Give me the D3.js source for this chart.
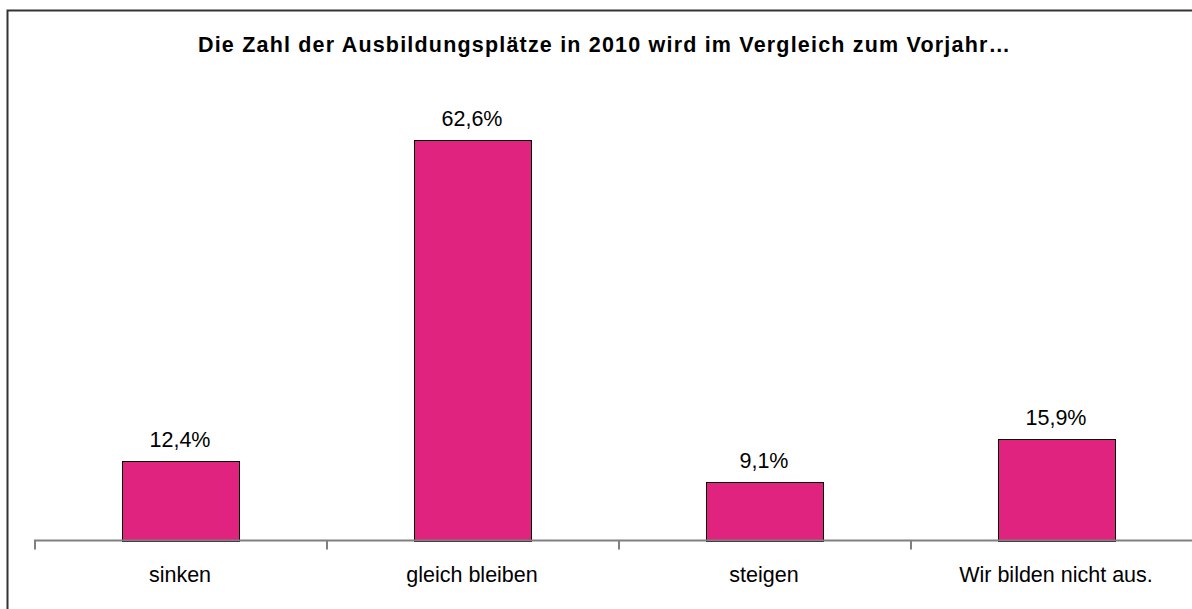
<!DOCTYPE html>
<html>
<head>
<meta charset="utf-8">
<script src="https://cdn.jsdelivr.net/npm/d3@7"></script>
<style>
  body { margin: 0; background: #fff; }
  text { font-family: "Liberation Sans", Arial, sans-serif; fill: #000; }
</style>
</head>
<body>
<div id="chart"></div>
<script>
const categories = ["sinken", "gleich bleiben", "steigen", "Wir bilden nicht aus."];
const values = [12.4, 62.6, 9.1, 15.9];
const valueLabels = ["12,4%", "62,6%", "9,1%", "15,9%"];
const title = "Die Zahl der Ausbildungsplätze in 2010 wird im Vergleich zum Vorjahr…";

const width = 1192, height = 609;
const baseY = 540.5;

const svg = d3.select("#chart").append("svg")
    .attr("width", width)
    .attr("height", height);

// outer frame (runs off the right and bottom edge)
svg.append("rect")
    .attr("x", 7.5).attr("y", 10.5)
    .attr("width", 1300).attr("height", 700)
    .attr("fill", "none")
    .attr("stroke", "#333")
    .attr("stroke-width", 2);

svg.append("text")
    .attr("x", 198).attr("y", 51.5)
    .attr("font-size", 21.5)
    .attr("font-weight", "bold")
    .attr("textLength", 812)
    .attr("lengthAdjust", "spacing")
    .text(title);

const x = d3.scaleBand()
    .domain(categories)
    .range([34, 1202])
    .paddingInner(0.6)
    .paddingOuter(0.3);

const y = d3.scaleLinear()
    .domain([0, 70])
    .range([baseY, baseY - 70 * 6.39]);

svg.append("g")
    .selectAll("rect")
    .data(values)
    .join("rect")
    .attr("x", (d, i) => Math.round(x(categories[i])) + 0.5)
    .attr("y", d => Math.round(y(d)) + 0.5)
    .attr("width", Math.round(x.bandwidth()))
    .attr("height", d => Math.round(baseY) - Math.round(y(d)))
    .attr("fill", "#e0237f")
    .attr("stroke", "#000")
    .attr("stroke-width", 1);

// axis line + ticks between categories
const step = x.step();
const axis = svg.append("g").attr("stroke", "#808080").attr("stroke-width", 2);
axis.append("line")
    .attr("x1", 34).attr("x2", 1210)
    .attr("y1", baseY).attr("y2", baseY);
axis.selectAll("line.tick")
    .data(d3.range(categories.length + 1))
    .join("line")
    .attr("class", "tick")
    .attr("x1", i => 35 + i * step).attr("x2", i => 35 + i * step)
    .attr("y1", baseY).attr("y2", baseY + 9);

svg.append("g")
    .attr("font-size", 21.5)
    .attr("text-anchor", "middle")
    .selectAll("text")
    .data(values)
    .join("text")
    .attr("x", (d, i) => x(categories[i]) + x.bandwidth() / 2)
    .attr("y", d => y(d) - 14)
    .text((d, i) => valueLabels[i]);

svg.append("g")
    .attr("font-size", 21.5)
    .attr("text-anchor", "middle")
    .selectAll("text")
    .data(categories)
    .join("text")
    .attr("x", d => x(d) + x.bandwidth() / 2)
    .attr("y", 582)
    .text(d => d);
</script>
</body>
</html>
